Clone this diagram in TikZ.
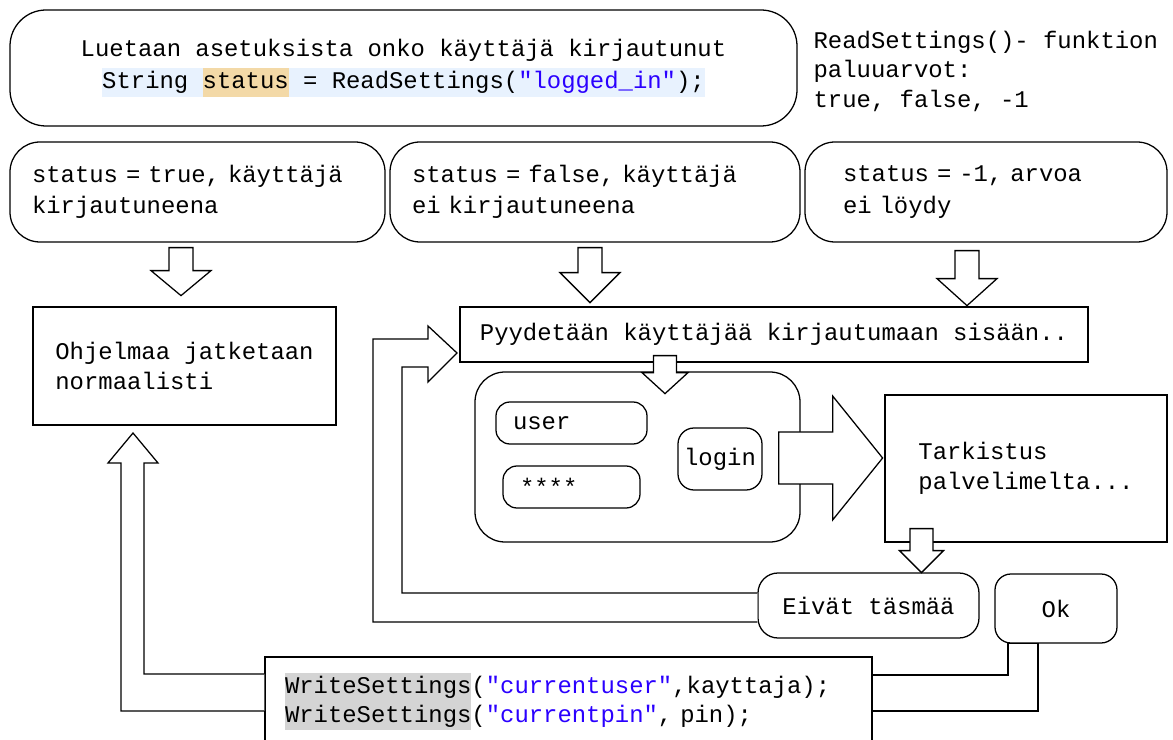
\documentclass[tikz,border=0pt]{standalone}
\usepackage{fontspec}
\usepackage{tikz}
\usetikzlibrary{calc}
\newfontfamily\codefont{Liberation Mono}
\definecolor{strblue}{HTML}{2A00FF}
\definecolor{codebg}{HTML}{E8F2FE}
\definecolor{statusbg}{HTML}{F3D9A7}
\definecolor{greybg}{HTML}{D4D4D4}
\newdimen\pxu
\pxu=0.025cm
\newcommand{\codehl}[2]{{\setlength{\fboxsep}{0pt}\colorbox{#1}{\rule[-5.5pt]{0pt}{20.5pt}#2}}}
\tikzset{pics/blockarrow/.style n args={4}{code={
  \filldraw[fill=white, line width=0.9pt] (0,-#2) -- (#1,-#2) -- (#1,-#3) -- ({#1+#4},0)
    -- (#1,#3) -- (#1,#2) -- (0,#2) -- cycle;}}}
\begin{document}
\begin{tikzpicture}[x=0.025cm, y=-0.025cm,
  every node/.style={font=\codefont\fontsize{17}{21.5}\selectfont, line width=0.9pt},
  box/.style={draw, rectangle, align=left},
  rbox/.style={draw, rounded corners=#1, align=left},
  statusbox/.style={rbox=30\pxu, text width=#1, inner xsep=22\pxu, minimum height=100\pxu,
    font=\codefont\fontsize{17}{22.5}\selectfont},
  field/.style={rbox=14\pxu, text width=#1, inner xsep=17\pxu, minimum height=42\pxu}
  ]
  \useasboundingbox (0,0) rectangle (1173,740);
  \clip (0,0) rectangle (1173,740);

  \node[rbox=36\pxu, align=center, minimum width=787\pxu, minimum height=116\pxu,
    font=\codefont\fontsize{17}{23}\selectfont] (readbox) at (403.5,68)
    {Luetaan asetuksista onko käyttäjä kirjautunut\\
     \codehl{codebg}{String \codehl{statusbg}{status} = ReadSettings(\textcolor{strblue}{"logged\_in"});}};
  \node[anchor=west, inner sep=0pt, align=left, font=\codefont\fontsize{17}{21}\selectfont] (retnote)
    at (813,71) {ReadSettings()- funktion\\paluuarvot:\\true, false, -1};

  \node[statusbox=331\pxu] (sA) at (197.5,192) {status = true, käyttäjä\\kirjautuneena};
  \node[statusbox=366\pxu] (sB) at (595,192) {status = false, käyttäjä\\ei kirjautuneena};
  \node[statusbox=286\pxu, inner xsep=38\pxu] (sC) at (986,192) {status = -1, arvoa\\ei löydy};

  \node[box, minimum width=303\pxu, minimum height=118\pxu] (prog) at (184.5,366)
    {Ohjelmaa jatketaan\\normaalisti};
  \node[box, minimum width=628\pxu, minimum height=55\pxu] (ask) at (774,334.5)
    {Pyydetään käyttäjää kirjautumaan sisään..};

  \node[rbox=30\pxu, minimum width=325\pxu, minimum height=170\pxu] (panel) at (637.5,457) {};
  \node[field=117\pxu] (user) at (571.5,423) {user};
  \node[field=103\pxu] (pwd) at (571.5,487) {****};
  \node[rbox=16\pxu, align=center, minimum width=84\pxu, minimum height=62\pxu] (login) at (720,459) {login};

  \node[box, minimum width=282\pxu, minimum height=147\pxu] (check) at (1026,468.5)
    {Tarkistus\\palvelimelta...};
  \node[rbox=20\pxu, minimum width=221\pxu, minimum height=65\pxu] (eiv) at (868.5,605.5) {Eivät täsmää};
  \node[rbox=16\pxu, minimum width=122\pxu, minimum height=69\pxu] (ok) at (1056,608.5) {Ok};

  \node[box, text width=567\pxu, inner xsep=20\pxu, minimum height=89\pxu,
    font=\codefont\fontsize{17}{20.5}\selectfont] (write) at (568.5,701.5)
    {\codehl{greybg}{WriteSettings}(\textcolor{strblue}{"currentuser"},kayttaja);\\
     \codehl{greybg}{WriteSettings}(\textcolor{strblue}{"currentpin"}, pin);};

  \pic[rotate=-90] at ($(sA.south)+(-16.5,5)$) {blockarrow={23}{12}{30}{25}};
  \pic[rotate=-90] at ($(sB.south)+(-5,5)$) {blockarrow={25}{12}{30}{30}};
  \pic[rotate=-90] at ($(sC.south)+(-19,8)$) {blockarrow={28}{12}{30}{27}};
  \pic[rotate=-90] at ($(ask.south)+(-109,-7)$) {blockarrow={17}{11.5}{23}{21}};
  \pic at ($(panel.east)+(-22,1)$) {blockarrow={54}{26}{62}{50}};
  \pic[rotate=-90] at ($(check.south)+(-104.5,-14)$) {blockarrow={22}{11.5}{22}{22}};

  \filldraw[fill=white, line width=0.9pt] ($(eiv.west)+(0,-12.5)$) -| (402,367) -- (428,367)
    -- (428,382) -- (457,353) -- (428,326) -- (428,339) -- (373,339) |- ($(eiv.west)+(0,16.5)$);
  \filldraw[fill=white, line width=0.9pt] ($(write.west)+(0,-27.5)$) -| (144,463) -- (158,463)
    -- (133,433) -- (108,463) -- (121,463) |- ($(write.west)+(0,9.5)$);
  \draw[line width=0.9pt] ($(write.east)+(0,-26.5)$) -| ($(ok.south)+(-48,0)$)
    -- ($(ok.south)+(-18,0)$) |- ($(write.east)+(0,9.5)$);
\end{tikzpicture}
\end{document}
